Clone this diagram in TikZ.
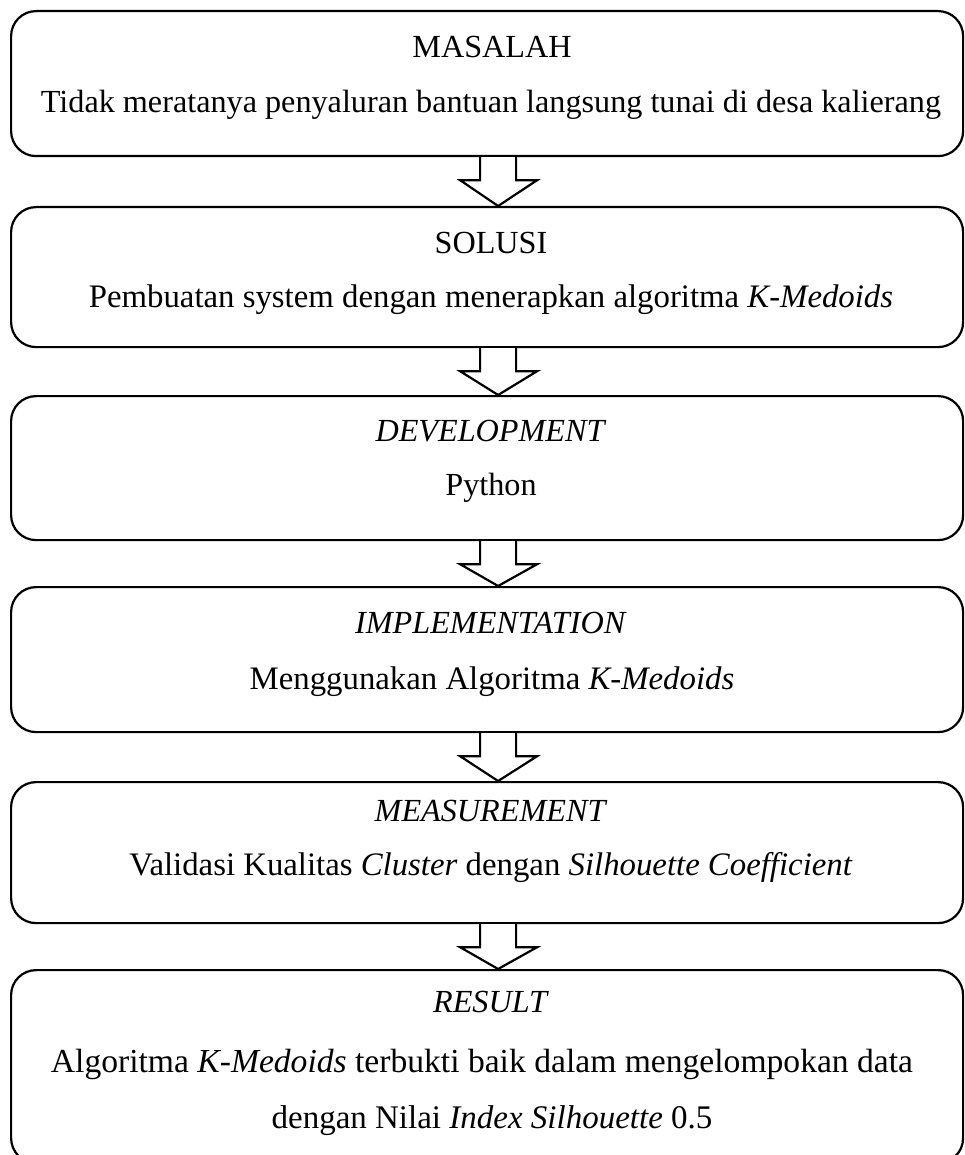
\documentclass[tikz,border=0pt]{standalone}
\usepackage{fontspec}
\setmainfont{Liberation Serif}
\usetikzlibrary{calc}
\begin{document}
\begin{tikzpicture}[x=1pt,y=-1pt,
  box/.style={draw, line width=2.2pt, rounded corners=25pt, minimum width=952pt, inner sep=0pt, anchor=north west},
  txt/.style={anchor=base, inner sep=0pt, font=\fontsize{32.2}{40}\selectfont},
  txtw/.style={anchor=base, inner sep=0pt, font=\fontsize{32.8}{40}\selectfont},
  blockarrow/.style={draw, line width=2.2pt, fill=white, line join=miter}]
\path[use as bounding box, clip] (0,0) rectangle (964,1155);
\node[box, minimum height=145pt] (b1) at (10,10) {};
\node[box, minimum height=140pt] (b2) at (10,206) {};
\node[box, minimum height=144pt] (b3) at (10,395) {};
\node[box, minimum height=145pt] (b4) at (10,586) {};
\node[box, minimum height=141pt] (b5) at (10,781) {};
\node[box, minimum height=193pt] (b6) at (10,969) {};

\node[txt] (t1a) at (492,58) {MASALAH};
\node[txt] (t1b) at (491,113) {Tidak meratanya penyaluran bantuan langsung tunai di desa kalierang};
\node[txt] (t2a) at (491,254) {SOLUSI};
\node[txtw] (t2b) at (491,308) {Pembuatan system dengan menerapkan algoritma \textit{K-Medoids}};
\node[txt] (t3a) at (491,441) {\textit{DEVELOPMENT}};
\node[txt] (t3b) at (491,495) {Python};
\node[txt] (t4a) at (491,633) {\textit{IMPLEMENTATION}};
\node[txtw] (t4b) at (492,689) {Menggunakan Algoritma \textit{K-Medoids}};
\node[txt] (t5a) at (491,821) {\textit{MEASUREMENT}};
\node[txtw] (t5b) at (491,875) {Validasi Kualitas \textit{Cluster} dengan \textit{Silhouette Coefficient}};
\node[txt] (t6a) at (491,1012) {\textit{RESULT}};
\node[txtw, font=\fontsize{33.6}{40}\selectfont] (t6b) at (482,1072) {Algoritma \textit{K-Medoids} terbukti baik dalam mengelompokan data};
\node[txtw, font=\fontsize{33}{40}\selectfont] (t6c) at (492,1128) {dengan Nilai \textit{Index Silhouette} 0.5};

\foreach \a/\b in {b1/b2,b2/b3,b3/b4,b4/b5,b5/b6}{
  \draw[blockarrow] ($(\a.south)+(-7,0)$) -- ++(0,23) -- ++(-20,0)
    -- ($(\b.north)+(11,0)$) -- ($(\a.south)+(50,23)$) -- ++(-21,0) -- ($(\a.south)+(29,0)$);
}
\end{tikzpicture}
\end{document}
